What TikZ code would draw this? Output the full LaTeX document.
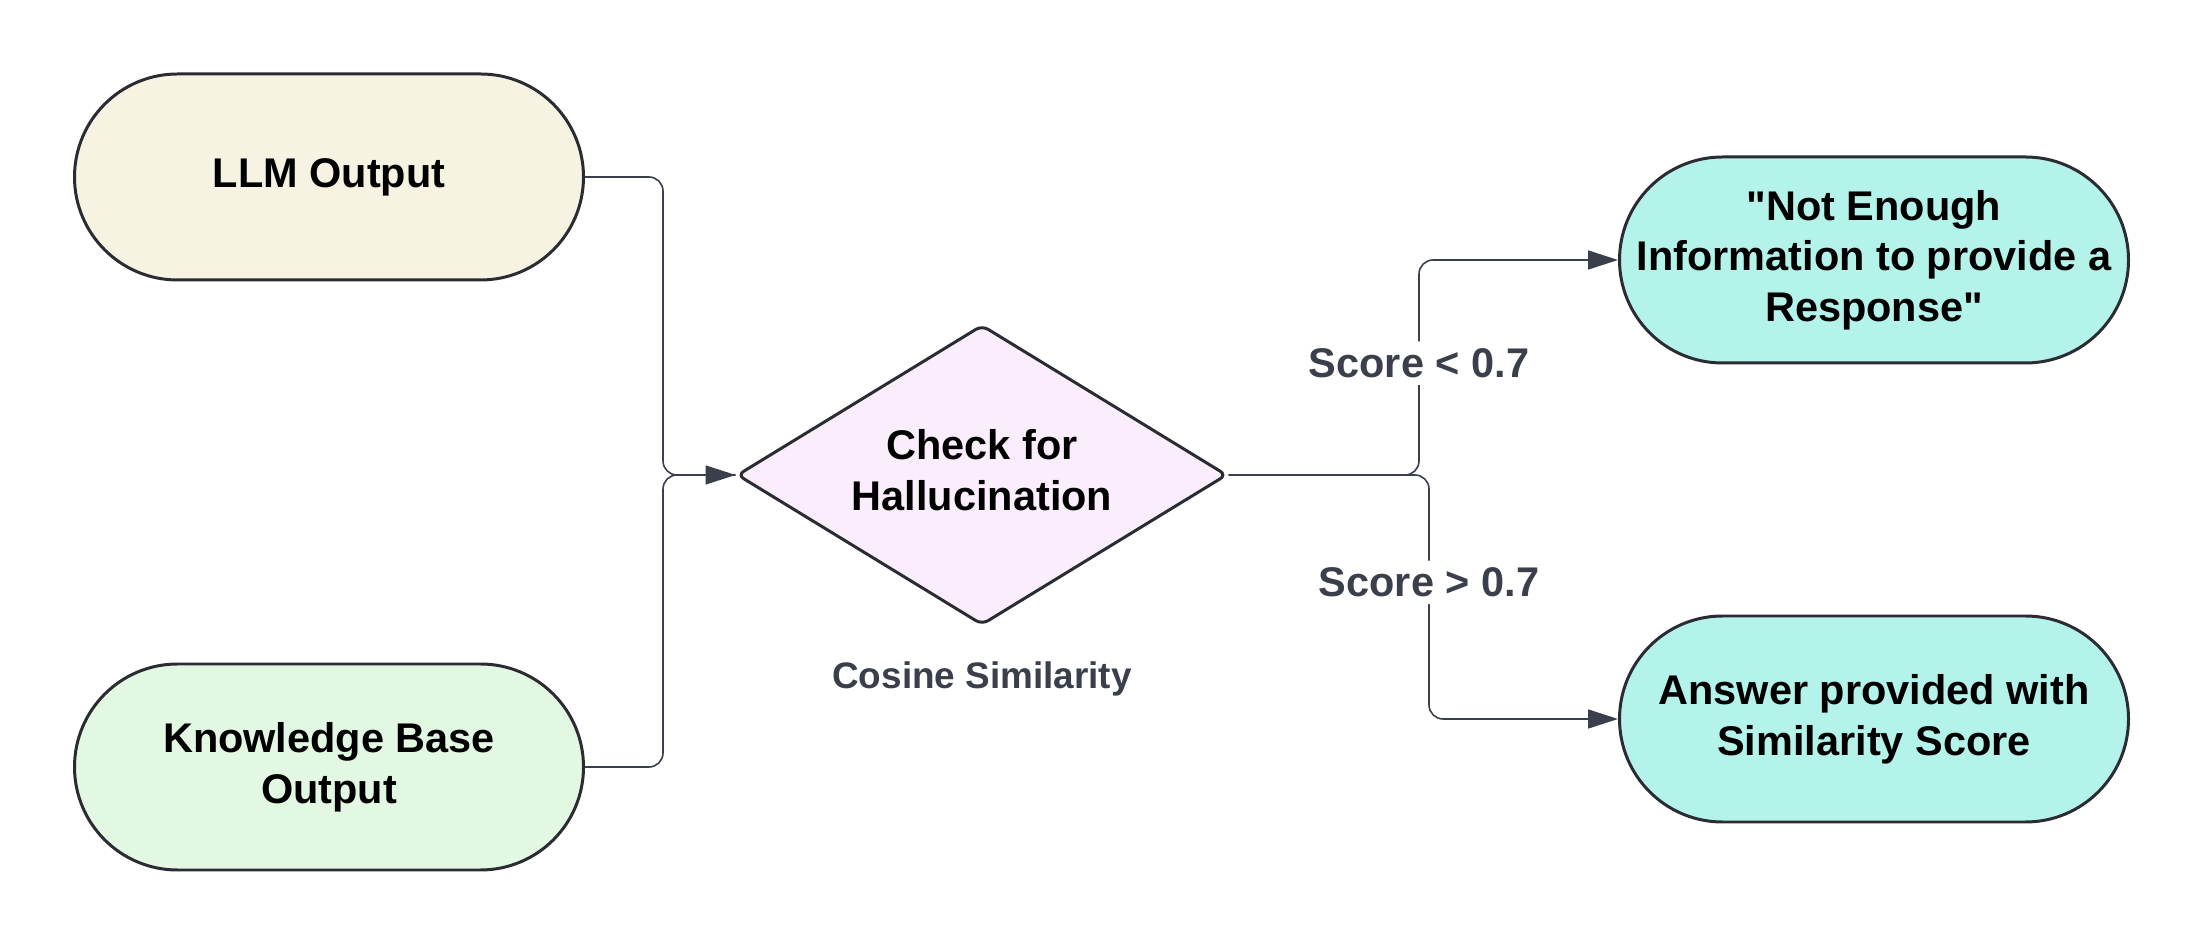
\documentclass[tikz,border=0pt]{standalone}
\usepackage{fontspec}
\setmainfont{Liberation Sans}
\usetikzlibrary{shapes.geometric,arrows.meta}

\definecolor{edgecol}{HTML}{2B2B33}
\definecolor{linecol}{HTML}{3A3F4B}
\definecolor{creamfill}{HTML}{F6F3E3}
\definecolor{greenfill}{HTML}{E2F8E2}
\definecolor{pinkfill}{HTML}{FAEEFD}
\definecolor{tealfill}{HTML}{B4F3EA}

\tikzset{
    pill/.style={draw=edgecol, line width=0.85pt, rounded corners=1.03cm,
        minimum width=5.09cm, minimum height=2.06cm, align=center,
        font=\bfseries\fontsize{11.8}{14.4}\selectfont},
    decision/.style={diamond, aspect=1.63, draw=edgecol, line width=0.85pt,
        fill=pinkfill, rounded corners=2pt, inner sep=0pt,
        minimum width=4.9cm, minimum height=3.0cm, align=center,
        font=\bfseries\fontsize{11.8}{14.4}\selectfont},
    conn/.style={draw=linecol, line width=0.45pt, rounded corners=4pt},
    arr/.style={conn, -{Triangle[length=3mm, width=1.9mm]}},
    lbl/.style={fill=white, inner sep=2pt, text=linecol,
        font=\bfseries\fontsize{11.8}{14.4}\selectfont}
}

\begin{document}
\begin{tikzpicture}
    % Canvas
    \fill[white] (0,0) rectangle (22.03,9.47);
    \useasboundingbox (0,0) rectangle (22.03,9.47);

    % Inputs
    \node[pill, fill=creamfill] (llm) at (3.29,7.70) {LLM Output};
    \node[pill, fill=greenfill] (kb) at (3.29,1.80) {Knowledge Base\\Output};

    % Check
    \node[decision] (check) at (9.82,4.72)
        {\raisebox{3pt}{\begin{tabular}{@{}c@{}}Check for\\Hallucination\end{tabular}}};
    \node[text=linecol, font=\bfseries\fontsize{10.5}{12.6}\selectfont]
        (method) at (9.82,2.68) {Cosine Similarity};

    % Outcomes
    \node[pill, fill=tealfill] (noinfo) at (18.74,6.87)
        {\textquotedbl Not Enough\\Information to provide a\\Response\textquotedbl};
    \node[pill, fill=tealfill] (answer) at (18.74,2.28)
        {Answer provided with\\Similarity Score};

    % Junctions
    \coordinate (join) at (6.63,4.72);
    \coordinate (lowsplit) at (14.19,4.72);
    \coordinate (highsplit) at (14.29,4.72);

    % Connectors
    \draw[arr] (llm.east) -| (join) -- (check.west);
    \draw[conn] (kb.east) -| (join) -- (check.west);
    \draw[arr] (check.east) -- (lowsplit) |- node[lbl, pos=0.26] {Score < 0.7} (noinfo.west);
    \draw[arr] (check.east) -- (highsplit) |- node[lbl, pos=0.22] {Score > 0.7} (answer.west);
\end{tikzpicture}
\end{document}
